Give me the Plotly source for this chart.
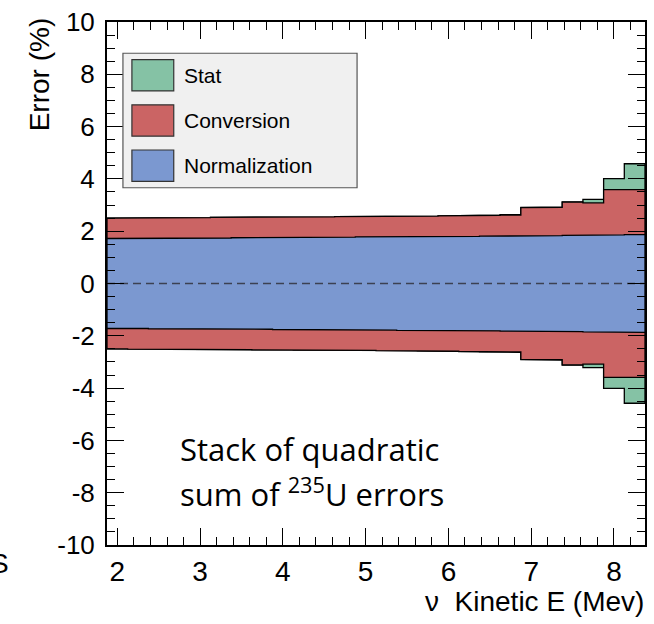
import plotly.graph_objects as go

# ---------------- data ----------------
bin_centers = [2.0, 2.25, 2.5, 2.75, 3.0, 3.25, 3.5, 3.75, 4.0, 4.25, 4.5, 4.75, 5.0,
               5.25, 5.5, 5.75, 6.0, 6.25, 6.5, 6.75, 7.0, 7.25, 7.5, 7.75, 8.0, 8.25]
bin_width = 0.25

# stack boundaries (quadratic sums), in %
norm_err = [1.72, 1.72, 1.73, 1.73, 1.74, 1.74, 1.75, 1.75, 1.76, 1.76, 1.77, 1.77, 1.78,
            1.78, 1.79, 1.79, 1.80, 1.80, 1.81, 1.82, 1.82, 1.83, 1.84, 1.85, 1.86, 1.87]
norm_conv_err = [2.50, 2.51, 2.51, 2.52, 2.52, 2.53, 2.53, 2.54, 2.54, 2.55, 2.55, 2.56, 2.56,
                 2.57, 2.57, 2.58, 2.59, 2.60, 2.61, 2.62, 2.90, 2.91, 3.11, 3.08, 3.59, 3.59]
total_err = [2.50, 2.51, 2.51, 2.52, 2.52, 2.53, 2.53, 2.54, 2.54, 2.55, 2.55, 2.56, 2.56,
             2.57, 2.57, 2.58, 2.59, 2.60, 2.61, 2.63, 2.91, 2.93, 3.12, 3.22, 4.01, 4.58]

series_names = ["Stat", "Conversion", "Normalization"]
series_colors = ["#85c2a5", "#cb6464", "#7b98d0"]

x_ticks = [2, 3, 4, 5, 6, 7, 8]
y_ticks = [-10, -8, -6, -4, -2, 0, 2, 4, 6, 8, 10]

# ---------------- geometry ----------------
W, H = 654, 624
ML, MR, MT, MB = 107, 7, 18, 79
PW, PH = W - ML - MR, H - MT - MB


def xp(px):
    return (px - ML) / PW


def yp(py):
    return (H - MB - py) / PH


def band(vals):
    xs, ys = [], []
    for c, v in zip(bin_centers, vals):
        xs += [c - bin_width / 2, c + bin_width / 2]
        ys += [v, v]
    for c, v in zip(reversed(bin_centers), reversed(vals)):
        xs += [c + bin_width / 2, c - bin_width / 2]
        ys += [-v, -v]
    xs.append(xs[0])
    ys.append(ys[0])
    return xs, ys


fig = go.Figure()
for name, vals, col in zip(series_names, [total_err, norm_conv_err, norm_err], series_colors):
    xs, ys = band(vals)
    fig.add_trace(go.Scatter(x=xs, y=ys, mode="lines", fill="toself", fillcolor=col,
                             line=dict(color="black", width=1.3), name=name,
                             showlegend=False, hoverinfo="skip"))

xmin = bin_centers[0] - bin_width / 2
xmax = bin_centers[-1] + bin_width / 2
fig.add_trace(go.Scatter(x=[xmin, xmax], y=[0, 0], mode="lines",
                         line=dict(color="#3c4152", width=1.6, dash="8px,5px"),
                         showlegend=False, hoverinfo="skip"))

axis_common = dict(showline=True, linecolor="black", linewidth=2, mirror="allticks",
                   ticks="inside", ticklen=17, tickwidth=1.3, tickcolor="black",
                   showgrid=False, zeroline=False)

fig.update_xaxes(range=[xmin, xmax], tickvals=x_ticks, ticktext=[str(v) for v in x_ticks],
                 minor=dict(ticks="inside", ticklen=8, dtick=0.2, tick0=0, tickwidth=1.3,
                            tickcolor="black", showgrid=False),
                 tickfont=dict(family="Liberation Sans", size=28, color="black"),
                 ticklabelstandoff=0, **axis_common)
fig.update_yaxes(range=[-10, 10], tickvals=y_ticks, ticktext=[str(v) for v in y_ticks],
                 minor=dict(ticks="inside", ticklen=8, dtick=0.5, tick0=0, tickwidth=1.3,
                            tickcolor="black", showgrid=False),
                 tickfont=dict(family="Liberation Sans", size=26, color="black"),
                 ticklabelstandoff=5, **axis_common)

shapes = []
annotations = []

# legend box
shapes.append(dict(type="rect", xref="paper", yref="paper",
                   x0=xp(123), x1=xp(358), y0=yp(185), y1=yp(49.5),
                   fillcolor="#f0f0f0", line=dict(color="#555555", width=1.2), layer="above"))
sw_tops = [56, 101.5, 147]
for name, col, top in zip(series_names, series_colors, sw_tops):
    shapes.append(dict(type="rect", xref="paper", yref="paper",
                       x0=xp(132), x1=xp(174), y0=yp(top + 31.5), y1=yp(top),
                       fillcolor=col, line=dict(color="#333333", width=1.2), layer="above"))
    annotations.append(dict(text=name, xref="paper", yref="paper", x=xp(182), y=yp(top + 16),
                            xanchor="left", yanchor="middle", showarrow=False,
                            font=dict(family="Liberation Sans", size=21, color="black")))

# axis titles
annotations.append(dict(text="Error (%)", xref="paper", yref="paper", x=xp(39), y=yp(11),
                        xanchor="center", yanchor="top", textangle=-90, showarrow=False,
                        font=dict(family="Liberation Sans", size=28, color="black")))
annotations.append(dict(text="\u03bd\u00a0 Kinetic E (Mev)", xref="paper", yref="paper",
                        x=xp(648), y=yp(620), xanchor="right", yanchor="bottom", showarrow=False,
                        font=dict(family="Liberation Sans", size=28, color="black")))

# in-plot caption
annotations.append(dict(text="Stack of quadratic", xref="paper", yref="paper",
                        x=xp(178), y=yp(448), xanchor="left", yanchor="middle", showarrow=False,
                        font=dict(family="Open Sans", size=31, color="black")))
annotations.append(dict(text="sum of <sup>235</sup>U errors", xref="paper", yref="paper",
                        x=xp(178), y=yp(492), xanchor="left", yanchor="middle", showarrow=False,
                        font=dict(family="Open Sans", size=31, color="black")))

# cropped slide letter at far left
annotations.append(dict(text="S", xref="paper", yref="paper", x=xp(11), y=yp(564),
                        xanchor="right", yanchor="middle", showarrow=False,
                        font=dict(family="Liberation Sans", size=28, color="black")))

fig.update_layout(width=W, height=H, margin=dict(l=ML, r=MR, t=MT, b=MB),
                  paper_bgcolor="white", plot_bgcolor="white",
                  shapes=shapes, annotations=annotations, showlegend=False)

fig.write_html("out.html")
